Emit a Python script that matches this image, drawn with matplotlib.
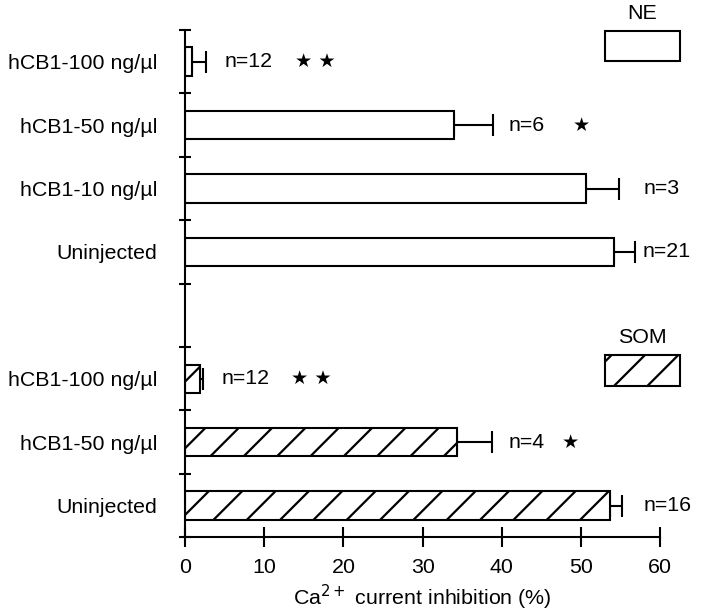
import numpy as np
import matplotlib
matplotlib.use('Agg')
import matplotlib.pyplot as plt
from matplotlib.patches import Rectangle

plt.rcParams['font.family'] = ['Liberation Sans', 'DejaVu Sans']
plt.rcParams['hatch.linewidth'] = 0.8

# NE group (top), listed top to bottom
ne_labels = ['hCB1-100 ng/µl', 'hCB1-50 ng/µl', 'hCB1-10 ng/µl', 'Uninjected']
ne_values = [0.9, 33.9, 50.6, 54.2]
ne_errors = [1.7, 5.0, 4.2, 2.6]
ne_counts = ['n=12', 'n=6', 'n=3', 'n=21']
ne_stars = ['★ ★', '★', '', '']

# SOM group (bottom), listed top to bottom
som_labels = ['hCB1-100 ng/µl', 'hCB1-50 ng/µl', 'Uninjected']
som_values = [1.9, 34.4, 53.6]
som_errors = [0.4, 4.3, 1.6]
som_counts = ['n=12', 'n=4', 'n=16']
som_stars = ['★ ★', '★', '']

ne_pos = [7.5, 6.5, 5.5, 4.5]
som_pos = [2.5, 1.5, 0.5]
count_x = [5.0, 40.8, 57.9, 57.8]
star_x = [13.9, 49.0, 0, 0]
som_count_x = [4.6, 40.8, 57.9]
som_star_x = [13.4, 47.6, 0]

FS = 7.7
LW = 0.75

fig = plt.figure(figsize=(3.6, 3.06), dpi=200)
ax = fig.add_axes([0.257, 0.122, 0.66, 0.829])

ax.barh(ne_pos, ne_values, height=0.45, color='white', edgecolor='black', linewidth=LW, zorder=2)
ax.barh(som_pos, som_values, height=0.45, color='white', edgecolor='black', linewidth=LW,
        hatch='//', zorder=2)
ax.errorbar(ne_values, ne_pos, xerr=[np.zeros(len(ne_errors)), ne_errors], fmt='none',
            ecolor='black', elinewidth=LW, capsize=4, capthick=LW, zorder=1)
ax.errorbar(som_values, som_pos, xerr=[np.zeros(len(som_errors)), som_errors], fmt='none',
            ecolor='black', elinewidth=LW, capsize=4, capthick=LW, zorder=1)

for y, c, cx, s, sx in zip(ne_pos, ne_counts, count_x, ne_stars, star_x):
    ax.text(cx, y, c, fontsize=FS, va='center', ha='left')
    if s:
        ax.text(sx, y, s, fontsize=FS * 0.9, va='center', ha='left', family='DejaVu Sans')
for y, c, cx, s, sx in zip(som_pos, som_counts, som_count_x, som_stars, som_star_x):
    ax.text(cx, y, c, fontsize=FS, va='center', ha='left')
    if s:
        ax.text(sx, y, s, fontsize=FS * 0.9, va='center', ha='left', family='DejaVu Sans')

# legend boxes
ax.add_patch(Rectangle((53.0, 7.51), 9.5, 0.47, facecolor='white', edgecolor='black',
                       linewidth=LW, clip_on=False))
ax.text(57.7, 8.26, 'NE', fontsize=FS, ha='center', va='center')
ax.add_patch(Rectangle((53.0, 2.39), 9.5, 0.49, facecolor='white', edgecolor='black',
                       linewidth=LW, hatch='//', clip_on=False))
ax.text(57.7, 3.15, 'SOM', fontsize=FS, ha='center', va='center')

ax.set_xlim(0, 60)
ax.set_ylim(0, 8)
ax.set_xticks(np.arange(0, 61, 10))
ax.set_yticks(np.arange(0, 9, 1))
ax.set_yticklabels([])
ax.set_yticks(ne_pos + som_pos, minor=True)
ax.set_yticklabels(ne_labels + som_labels, minor=True)
ax.tick_params(axis='y', which='major', direction='inout', length=4.5, width=LW)
ax.tick_params(axis='y', which='minor', length=0, pad=10, labelsize=FS)
ax.tick_params(axis='x', direction='inout', length=7, width=LW, pad=4, labelsize=FS)
ax.set_xlabel('Ca$^{2+}$ current inhibition (%)', fontsize=FS, labelpad=2)

for side in ['top', 'right']:
    ax.spines[side].set_visible(False)
for side in ['left', 'bottom']:
    ax.spines[side].set_linewidth(LW)

fig.savefig('out.png', dpi=200)
